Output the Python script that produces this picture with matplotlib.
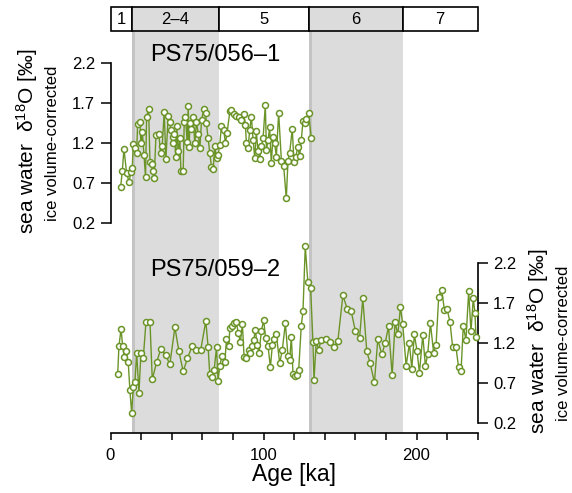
import matplotlib
matplotlib.use("Agg")
import matplotlib.pyplot as plt
from matplotlib.patches import Rectangle

plt.rcParams['font.family'] = ['Liberation Sans', 'DejaVu Sans']

# ---------------- data ----------------
mis_bounds = [0, 14, 71, 130, 191, 240]
mis_labels = ['1', '2–4', '5', '6', '7']
mis_glacial = [False, True, False, True, False]

up_age = [6.6, 7.7, 8.8, 10.5, 12.1, 13.4, 14.2, 14.9, 16.0, 17.1,
          17.7, 19.2, 19.9, 20.8, 21.9, 22.9, 23.6, 24.9, 25.8, 26.9,
          27.5, 28.6, 29.7, 31.6, 32.7, 33.8, 35.1, 36.2, 37.7, 38.8,
          39.5, 40.6, 41.0, 41.6, 42.7, 43.2, 44.2, 45.3, 46.0, 47.5,
          48.2, 49.0, 50.1, 50.8, 51.4, 51.9, 52.9, 54.0, 55.1, 56.2,
          57.3, 58.4, 59.5, 61.0, 62.1, 62.7, 63.8, 64.9, 66.0, 67.1,
          68.2, 69.3, 70.3, 71.4, 72.5, 74.0, 75.1, 76.2, 78.0, 79.0,
          80.6, 82.3, 84.0, 85.6, 87.1, 88.2, 88.8, 89.9, 91.0, 92.1,
          93.2, 94.3, 95.3, 96.4, 97.5, 98.6, 99.7, 101.2, 101.9, 103.0,
          104.0, 105.1, 106.2, 107.3, 108.4, 109.9, 111.7, 113.2, 114.9, 116.0,
          117.1, 118.8, 119.9, 121.0, 122.5, 123.6, 124.7, 125.8, 126.9, 128.0,
          129.5, 131.2]
up_val = [0.65, 0.85, 1.13, 0.83, 0.72, 0.84, 0.89, 1.19, 1.14, 1.08,
          1.44, 1.47, 1.20, 1.34, 1.05, 0.78, 1.53, 1.63, 0.97, 0.94,
          0.85, 0.77, 1.30, 1.31, 1.08, 1.17, 1.59, 1.00, 1.54, 1.46,
          1.37, 1.28, 1.20, 1.31, 1.03, 1.42, 1.10, 1.26, 0.85, 0.85,
          1.47, 1.53, 1.21, 1.67, 1.15, 1.45, 1.38, 1.53, 1.20, 1.47,
          1.32, 1.14, 1.49, 1.63, 1.58, 1.45, 1.26, 1.08, 0.90, 0.88,
          1.16, 1.01, 1.05, 1.18, 1.42, 1.37, 1.20, 1.33, 1.60, 1.62,
          1.57, 1.54, 1.53, 1.49, 1.57, 1.43, 1.20, 1.14, 1.37, 1.53,
          1.24, 1.01, 1.35, 1.10, 1.00, 1.16, 1.26, 1.68, 1.12, 1.24,
          1.40, 0.95, 1.28, 1.20, 1.03, 1.58, 0.98, 0.91, 0.51, 0.98,
          1.08, 1.38, 0.97, 1.03, 1.15, 1.04, 1.24, 1.48, 1.45, 1.50,
          1.58, 1.27]

lo_age = [4.7, 5.5, 6.9, 7.9, 9.0, 10.1, 11.6, 12.7, 13.8, 14.9,
          16.0, 17.1, 18.6, 19.9, 21.4, 23.2, 25.8, 27.3, 30.1, 32.9,
          36.0, 38.8, 42.1, 44.7, 47.5, 50.3, 53.4, 56.2, 59.0, 62.3,
          63.8, 64.9, 66.4, 67.7, 69.3, 70.3, 71.4, 72.9, 74.7, 75.8,
          77.3, 78.0, 79.5, 80.8, 82.3, 83.4, 84.9, 86.2, 87.3, 88.8,
          90.3, 91.4, 92.5, 93.6, 94.7, 95.8, 97.1, 98.6, 100.1, 101.4,
          103.0, 104.5, 105.8, 106.9, 108.4, 110.6, 112.3, 114.3, 116.0, 117.1,
          118.2, 119.3, 120.8, 122.1, 123.0, 124.7, 125.8, 127.3, 129.0, 130.8,
          132.3, 133.0, 134.5, 136.0, 137.7, 140.6, 143.2, 146.0, 148.6,
          151.9, 154.7, 157.3, 160.1, 162.8, 164.9, 167.5, 169.7, 172.5, 174.7,
          177.3, 179.5, 181.7, 184.1, 186.0, 187.8, 189.5, 191.0, 193.2, 195.4,
          196.9, 198.6, 200.4, 201.9, 204.1, 205.8, 207.3, 209.1, 211.2, 212.8,
          214.5, 216.5, 218.2, 219.9, 221.9, 223.6, 225.8, 227.5, 229.1, 230.6,
          232.3, 234.1, 235.6, 237.1, 238.2, 238.9]
lo_val = [0.81, 1.16, 1.38, 1.17, 1.03, 1.10, 0.96, 0.61, 0.33, 0.65,
          0.72, 1.08, 0.58, 1.08, 1.01, 1.47, 1.47, 0.75, 0.96, 1.13,
          1.05, 0.94, 1.40, 1.10, 0.85, 1.01, 1.17, 1.12, 1.12, 1.48,
          1.15, 0.81, 0.78, 0.86, 1.15, 0.73, 0.92, 1.04, 0.96, 1.25,
          1.16, 1.39, 1.41, 1.45, 1.47, 1.33, 1.22, 1.44, 1.03, 1.02,
          1.12, 1.08, 1.16, 1.24, 1.37, 1.18, 1.08, 1.35, 1.49, 1.26,
          1.16, 0.90, 1.18, 1.25, 1.31, 0.95, 1.12, 1.45, 1.04, 0.99,
          1.28, 0.81, 0.79, 0.80, 0.87, 1.42, 1.60, 2.41, 1.96, 1.89,
          1.22, 0.74, 1.23, 1.12, 1.24, 1.25, 1.22, 1.15, 1.23,
          1.80, 1.63, 1.60, 1.35, 1.27, 1.76, 1.10, 0.95, 0.71, 1.25,
          1.06, 1.20, 1.41, 0.80, 1.46, 1.31, 1.65, 1.44, 0.92, 1.20,
          0.88, 1.31, 1.10, 0.83, 1.30, 0.92, 1.06, 1.45, 1.08, 1.18,
          1.78, 1.87, 1.62, 1.63, 1.47, 1.15, 1.15, 0.90, 0.85, 1.42,
          1.24, 1.85, 1.35, 1.76, 1.58, 1.28]

y_ticks = [0.2, 0.7, 1.2, 1.7, 2.2]
x_major = [0, 100, 200]

# ---------------- layout ----------------
W, H = 572, 493
fig = plt.figure(figsize=(W / 100, H / 100), dpi=100)


def rect(l, t, r, b):
    return [l / W, 1 - b / H, (r - l) / W, (b - t) / H]


GREEN = '#6b9428'
BAND = '#dcdcdc'
EDGE = '#c4c4c4'
X0, X1 = 110.5, 477.7
TOP, BOT = 31.0, 432.7
PPU = 80.0  # pixels per unit of d18O

# main axis: bands + x axis
ax = fig.add_axes(rect(X0, TOP, X1, BOT))
ax.set_xlim(0, 240)
ax.set_ylim(0, 1)
for i, g in enumerate(mis_glacial):
    if g:
        ax.axvspan(mis_bounds[i], mis_bounds[i + 1], color=BAND, lw=0, zorder=0)
        ax.axvspan(mis_bounds[i], mis_bounds[i] + 2.0, color=EDGE, lw=0, zorder=0)
for s in ['left', 'right', 'top']:
    ax.spines[s].set_visible(False)
ax.spines['bottom'].set_linewidth(1.2)
ax.set_yticks([])
ax.set_xticks(x_major)
ax.set_xticks(range(0, 241, 20), minor=True)
ax.tick_params(axis='x', which='both', length=5, width=1.1, direction='out',
               labelsize=12, pad=6)
ax.set_xlabel('Age [ka]', fontsize=16.5, labelpad=0)

# upper record axis (left scale)
t_up, b_up = 63.3, 223.3
ax1 = fig.add_axes(rect(X0, TOP, X1, BOT))
ax1.set_xlim(0, 240)
ax1.set_ylim(0.2 - (BOT - b_up) / PPU, 2.2 + (t_up - TOP) / PPU)
ax1.patch.set_visible(False)
for s in ['right', 'top', 'bottom']:
    ax1.spines[s].set_visible(False)
ax1.spines['left'].set_bounds(0.2, 2.2)
ax1.spines['left'].set_linewidth(1.2)
ax1.set_xticks([])
ax1.set_yticks(y_ticks)
ax1.set_yticklabels([f'{v:.1f}' for v in y_ticks])
ax1.tick_params(axis='y', length=7, width=1.1, labelsize=12, pad=4)
ax1.plot(up_age, up_val, '-o', color=GREEN, lw=1.0, ms=4.3,
         mfc='white', mec=GREEN, mew=1.1, clip_on=False, zorder=3)

# lower record axis (right scale)
t_lo, b_lo = 263.3, 423.3
ax2 = fig.add_axes(rect(X0, TOP, X1, BOT))
ax2.set_xlim(0, 240)
ax2.set_ylim(0.2 - (BOT - b_lo) / PPU, 2.2 + (t_lo - TOP) / PPU)
ax2.patch.set_visible(False)
for s in ['left', 'top', 'bottom']:
    ax2.spines[s].set_visible(False)
ax2.spines['right'].set_bounds(0.2, 2.2)
ax2.spines['right'].set_linewidth(1.2)
ax2.set_xticks([])
ax2.yaxis.tick_right()
ax2.set_yticks(y_ticks)
ax2.set_yticklabels([f'{v:.1f}' for v in y_ticks])
ax2.tick_params(axis='y', length=7, width=1.1, labelsize=12, pad=4)
ax2.plot(lo_age, lo_val, '-o', color=GREEN, lw=1.0, ms=4.3,
         mfc='white', mec=GREEN, mew=1.1, clip_on=False, zorder=3)

# MIS strip
axs = fig.add_axes(rect(X0, 7.3, X1, TOP))
axs.set_xlim(0, 240)
axs.set_ylim(0, 1)
axs.axis('off')
for i, lab in enumerate(mis_labels):
    a, b = mis_bounds[i], mis_bounds[i + 1]
    axs.add_patch(Rectangle((a, 0), b - a, 1, facecolor=BAND if mis_glacial[i] else 'white',
                            edgecolor='black', lw=1.2, clip_on=False))
    axs.text((a + b) / 2, 0.5, lab, ha='center', va='center', fontsize=12)

# core labels
fig.text(150 / W, 1 - 55 / H, 'PS75/056–1', fontsize=17, ha='left', va='center')
fig.text(150 / W, 1 - 270.5 / H, 'PS75/059–2', fontsize=17, ha='left', va='center')

lab1 = 'sea water  δ$\\mathregular{^{18}}$O [‰]'
lab2 = 'ice volume-corrected'
fig.text(27 / W, 1 - 141 / H, lab1, rotation=90, fontsize=15, ha='center', va='center')
fig.text(53 / W, 1 - 143 / H, lab2, rotation=90, fontsize=12, ha='center', va='center')
fig.text(538 / W, 1 - 341 / H, lab1, rotation=90, fontsize=15, ha='center', va='center')
fig.text(564 / W, 1 - 343 / H, lab2, rotation=90, fontsize=12, ha='center', va='center')

fig.savefig('out.png', dpi=100)
